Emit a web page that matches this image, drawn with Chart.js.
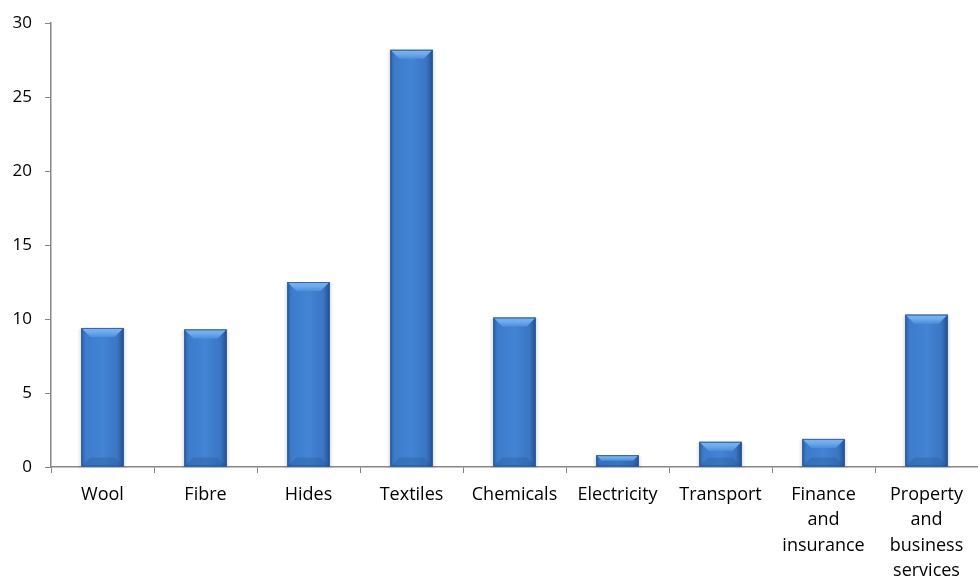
<!DOCTYPE html>
<html>
<head>
<meta charset="utf-8">
<script src="https://cdn.jsdelivr.net/npm/chart.js@4/dist/chart.umd.min.js"></script>
<style>
  html, body { margin: 0; padding: 0; background: #fff; }
  #wrap { width: 978px; height: 583px; position: relative; }
</style>
</head>
<body>
<div id="wrap"><canvas id="chart"></canvas></div>
<script>
// chart data
const categories = [
  "Wool", "Fibre", "Hides", "Textiles", "Chemicals", "Electricity", "Transport",
  ["Finance", "and", "insurance"],
  ["Property", "and", "business", "services"]
];
const values = [9.4, 9.3, 12.5, 28.2, 10.1, 0.8, 1.7, 1.9, 10.3];
const yTicks = [0, 5, 10, 15, 20, 25, 30];

const AXIS_GREY = "#878787";
const LABEL_FONT = { family: "'Open Sans', sans-serif", size: 18, lineHeight: "25.5px" };

// shadow behind bars, then horizontal shading + bevels on top of each bar
const bevelPlugin = {
  id: "bevel",
  beforeDatasetsDraw(chart) {
    const ctx = chart.ctx;
    const meta = chart.getDatasetMeta(0);
    ctx.save();
    meta.data.forEach(bar => {
      const half = bar.width / 2;
      const h = bar.base - bar.y;
      ctx.fillStyle = "rgba(0,0,0,0.05)";
      ctx.fillRect(bar.x - half - 3, bar.y + 1, bar.width + 6, h + 1);
      ctx.fillStyle = "rgba(0,0,0,0.05)";
      ctx.fillRect(bar.x - half - 1.5, bar.y, bar.width + 3, h);
    });
    ctx.restore();
  },
  afterDatasetsDraw(chart) {
    const ctx = chart.ctx;
    const meta = chart.getDatasetMeta(0);
    ctx.save();
    meta.data.forEach(bar => {
      const half = bar.width / 2;
      const left = bar.x - half;
      const right = bar.x + half;
      const top = bar.y;
      const h = bar.base - bar.y;
      const bev = Math.min(9, h / 2);

      // body shading
      const g = ctx.createLinearGradient(left, 0, right, 0);
      g.addColorStop(0, "#2f64a8");
      g.addColorStop(0.1, "#3d7bcb");
      g.addColorStop(0.5, "#4384d4");
      g.addColorStop(0.85, "#3a76c4");
      g.addColorStop(1, "#24528e");
      ctx.fillStyle = g;
      ctx.fillRect(left, top, bar.width, h);

      // top bevel
      const tg = ctx.createLinearGradient(0, top, 0, top + bev);
      tg.addColorStop(0, "#7fb4ee");
      tg.addColorStop(0.45, "#6fabee");
      tg.addColorStop(1, "#4d8edc");
      ctx.fillStyle = tg;
      ctx.beginPath();
      ctx.moveTo(left, top);
      ctx.lineTo(right, top);
      ctx.lineTo(right - bev, top + bev);
      ctx.lineTo(left + bev, top + bev);
      ctx.closePath();
      ctx.fill();

      // bottom bevel
      ctx.fillStyle = "rgba(30,70,130,0.25)";
      ctx.beginPath();
      ctx.moveTo(left, bar.base);
      ctx.lineTo(right, bar.base);
      ctx.lineTo(right - bev, bar.base - bev);
      ctx.lineTo(left + bev, bar.base - bev);
      ctx.closePath();
      ctx.fill();

      // outline
      ctx.strokeStyle = "rgba(35,80,140,0.8)";
      ctx.lineWidth = 1;
      ctx.strokeRect(left + 0.5, top + 0.5, bar.width - 1, h - 1);
    });
    ctx.restore();
  }
};

const ctx = document.getElementById("chart");

new Chart(ctx, {
  type: "bar",
  data: {
    labels: categories,
    datasets: [
      {
        data: values,
        backgroundColor: "#3f7fcf",
        borderWidth: 0,
        barPercentage: 0.41,
        categoryPercentage: 1
      }
    ]
  },
  options: {
    responsive: true,
    maintainAspectRatio: false,
    animation: false,
    layout: { padding: { top: 22, right: 0, left: 0, bottom: 0 } },
    plugins: {
      legend: { display: false },
      tooltip: { enabled: false }
    },
    scales: {
      x: {
        offset: true,
        grid: {
          display: true,
          drawOnChartArea: false,
          drawTicks: true,
          tickLength: 6,
          offset: true,
          color: AXIS_GREY
        },
        border: { color: AXIS_GREY, width: 1.5 },
        ticks: {
          color: "#000",
          font: LABEL_FONT,
          maxRotation: 0,
          autoSkip: false,
          padding: 9
        },
        afterFit(scale) { scale.height = 116; }
      },
      y: {
        min: 0,
        max: 30,
        afterBuildTicks(scale) {
          scale.ticks = yTicks.map(v => ({ value: v }));
        },
        grid: {
          display: true,
          drawOnChartArea: false,
          drawTicks: true,
          tickLength: 6,
          color: AXIS_GREY
        },
        border: { color: AXIS_GREY, width: 1.5 },
        ticks: {
          color: "#000",
          font: { family: "'Open Sans', sans-serif", size: 17 },
          padding: 13
        },
        afterFit(scale) { scale.width = 51; }
      }
    }
  },
  plugins: [bevelPlugin]
});
</script>
</body>
</html>
